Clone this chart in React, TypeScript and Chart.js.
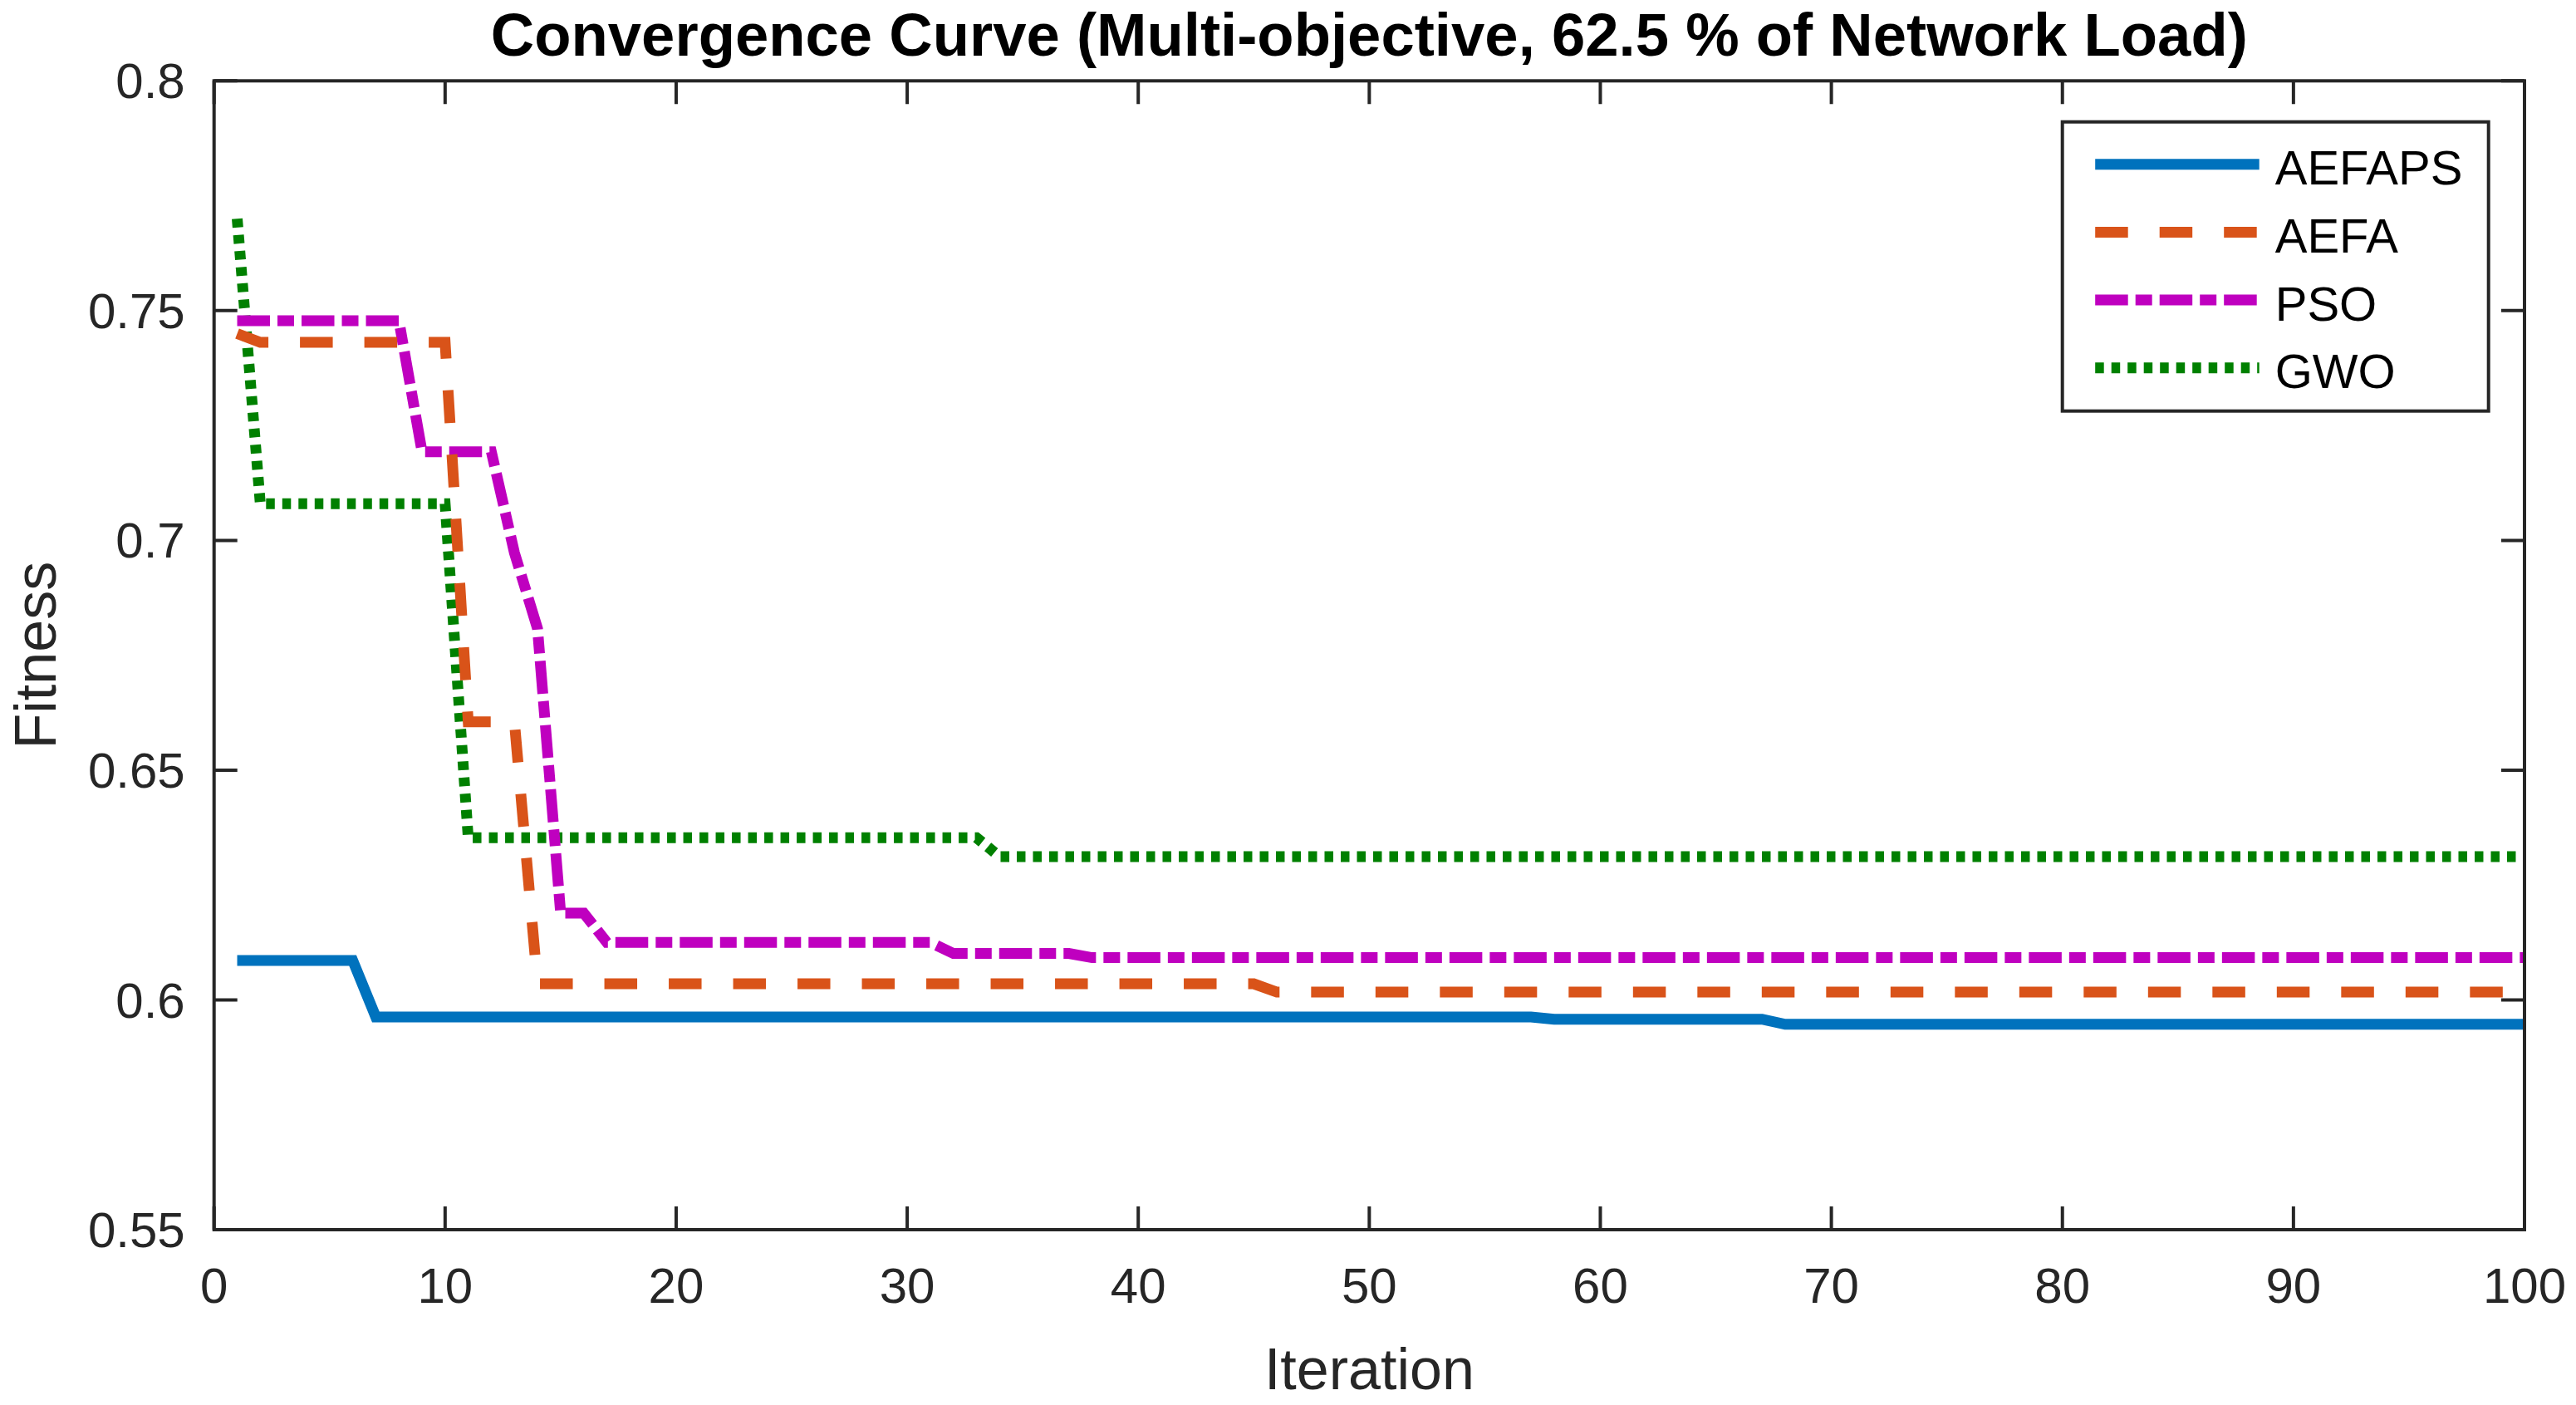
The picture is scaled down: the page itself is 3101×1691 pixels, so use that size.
import React, { useEffect, useRef } from 'react';
import { Chart, registerables } from 'chart.js';

Chart.register(...registerables);

// ---------- data ----------
const chartTitle = 'Convergence Curve (Multi-objective, 62.5 % of Network Load)';
const xAxisTitle = 'Iteration';
const yAxisTitle = 'Fitness';
const seriesNames = ['AEFAPS', 'AEFA', 'PSO', 'GWO'];

// iterations at which the best fitness changes, and the fitness there
const aefapsIter = [1, 6, 7, 57, 58, 67, 68, 100];
const aefapsFit = [0.6086, 0.6086, 0.5963, 0.5963, 0.5958, 0.5958, 0.5947, 0.5947];

const aefaIter = [1, 2, 10, 11, 13, 14, 45, 46, 100];
const aefaFit = [0.745, 0.7431, 0.7431, 0.6605, 0.6605, 0.6035, 0.6035, 0.6017, 0.6017];

const psoIter = [1, 8, 9, 12, 13, 14, 15, 16, 17, 31, 32, 37, 38, 100];
const psoFit = [0.7478, 0.7478, 0.7193, 0.7193, 0.6973, 0.6808, 0.6189, 0.6189, 0.6125, 0.6125, 0.6101, 0.6101, 0.6092, 0.6092];

const gwoIter = [1, 2, 10, 11, 33, 34, 100];
const gwoFit = [0.77, 0.708, 0.708, 0.6353, 0.6353, 0.6312, 0.6312];

const xTickValues = [0, 10, 20, 30, 40, 50, 60, 70, 80, 90, 100];
const xTickLabels = ['0', '10', '20', '30', '40', '50', '60', '70', '80', '90', '100'];
const yTickValues = [0.55, 0.6, 0.65, 0.7, 0.75, 0.8];
const yTickLabels = ['0.55', '0.6', '0.65', '0.7', '0.75', '0.8'];

// ---------- styles ----------
const FONT = '"Liberation Sans", Arial, Helvetica, sans-serif';
const AXIS_COLOR = '#262626';
const LINE_W = 13;

const toPoints = (xs: number[], ys: number[]) => xs.map((x, i) => ({ x, y: ys[i] }));

const matlabPlugin = {
  id: 'matlabFrame',
  afterDatasetsDraw(chart: any) {
    const { ctx, chartArea: ca } = chart;
    const xs = chart.scales.x;
    const ys = chart.scales.y;
    const tl = 28;
    ctx.save();
    ctx.strokeStyle = AXIS_COLOR;
    ctx.lineWidth = 4;
    ctx.setLineDash([]);
    ctx.lineCap = 'butt';
    ctx.beginPath();
    xs.ticks.forEach((t: any) => {
      const px = xs.getPixelForValue(t.value);
      ctx.moveTo(px, ca.bottom);
      ctx.lineTo(px, ca.bottom - tl);
      ctx.moveTo(px, ca.top);
      ctx.lineTo(px, ca.top + tl);
    });
    ys.ticks.forEach((t: any) => {
      const py = ys.getPixelForValue(t.value);
      ctx.moveTo(ca.left, py);
      ctx.lineTo(ca.left + tl, py);
      ctx.moveTo(ca.right, py);
      ctx.lineTo(ca.right - tl, py);
    });
    ctx.stroke();
    ctx.lineJoin = 'miter';
    ctx.strokeRect(ca.left, ca.top, ca.right - ca.left, ca.bottom - ca.top);
    ctx.restore();
  },
  afterDraw(chart: any) {
    const { ctx, chartArea: ca } = chart;
    const cx = (ca.left + ca.right) / 2;
    const cy = (ca.top + ca.bottom) / 2;

    // title
    ctx.save();
    ctx.font = `bold 72.5px ${FONT}`;
    ctx.fillStyle = '#000';
    ctx.textAlign = 'center';
    ctx.textBaseline = 'alphabetic';
    ctx.fillText(chartTitle, cx, ca.top - 30);
    ctx.restore();

    // axis titles
    ctx.save();
    ctx.font = `70px ${FONT}`;
    ctx.fillStyle = AXIS_COLOR;
    ctx.textAlign = 'center';
    ctx.textBaseline = 'alphabetic';
    ctx.fillText(xAxisTitle, cx, ca.bottom + 192);
    ctx.translate(ca.left - 191, cy);
    ctx.rotate(-Math.PI / 2);
    ctx.fillText(yAxisTitle, 0, 0);
    ctx.restore();

    // legend
    const fw = 513;
    const fh = 348;
    const fr = ca.right - 43.3;
    const ft = ca.top + 49.4;
    const fl = fr - fw;
    ctx.save();
    ctx.fillStyle = '#fff';
    ctx.fillRect(fl, ft, fw, fh);
    ctx.strokeStyle = AXIS_COLOR;
    ctx.lineWidth = 4;
    ctx.setLineDash([]);
    ctx.strokeRect(fl, ft, fw, fh);
    chart.data.datasets.forEach((ds: any, i: number) => {
      const y = ft + 51 + i * 81.7;
      ctx.save();
      ctx.strokeStyle = ds.borderColor;
      ctx.lineWidth = ds.borderWidth;
      ctx.lineCap = 'butt';
      ctx.setLineDash(ds.borderDash || []);
      ctx.beginPath();
      ctx.moveTo(fl + 39.5, y);
      ctx.lineTo(fl + 237, y);
      ctx.stroke();
      ctx.restore();
      ctx.font = `58px ${FONT}`;
      ctx.fillStyle = '#000';
      ctx.textAlign = 'left';
      ctx.textBaseline = 'alphabetic';
      ctx.fillText(ds.label, fl + 256, y + 24.5);
    });
    ctx.restore();
  },
};

export default function App() {
  const canvasRef = useRef<HTMLCanvasElement | null>(null);

  useEffect(() => {
    if (!canvasRef.current) return;
    const common = {
      fill: false,
      tension: 0,
      pointRadius: 0,
      pointHoverRadius: 0,
      borderWidth: LINE_W,
      borderCapStyle: 'butt' as const,
      borderJoinStyle: 'miter' as const,
    };
    const chart = new Chart(canvasRef.current, {
      type: 'line',
      data: {
        datasets: [
          { ...common, label: seriesNames[0], data: toPoints(aefapsIter, aefapsFit), borderColor: '#0072BD', borderDash: [] },
          { ...common, label: seriesNames[1], data: toPoints(aefaIter, aefaFit), borderColor: '#D95319', borderDash: [39.5, 38] },
          { ...common, label: seriesNames[2], data: toPoints(psoIter, psoFit), borderColor: '#BF00BF', borderDash: [39.5, 9, 20, 9] },
          { ...common, label: seriesNames[3], data: toPoints(gwoIter, gwoFit), borderColor: '#008000', borderDash: [10.5, 9] },
        ],
      },
      options: {
        animation: false,
        responsive: true,
        maintainAspectRatio: false,
        events: [],
        layout: { padding: { left: 0, right: 62, top: 97.3, bottom: 0 } },
        plugins: {
          legend: { display: false },
          title: { display: false },
          tooltip: { enabled: false },
        },
        scales: {
          x: {
            type: 'linear',
            min: 0,
            max: 100,
            grid: { display: false, drawTicks: false },
            border: { display: false },
            afterBuildTicks: (s: any) => {
              s.ticks = xTickValues.map((v) => ({ value: v }));
            },
            afterFit: (s: any) => {
              s.height = 211;
              s.paddingLeft = 0;
              s.paddingRight = 0;
            },
            ticks: {
              padding: 35,
              color: AXIS_COLOR,
              autoSkip: false,
              maxRotation: 0,
              font: { family: FONT, size: 60 },
              callback: (_v: any, i: number) => xTickLabels[i],
            },
          },
          y: {
            type: 'linear',
            min: 0.55,
            max: 0.8,
            grid: { display: false, drawTicks: false },
            border: { display: false },
            afterBuildTicks: (s: any) => {
              s.ticks = yTickValues.map((v) => ({ value: v }));
            },
            afterFit: (s: any) => {
              s.width = 257.7;
              s.paddingTop = 0;
              s.paddingBottom = 0;
            },
            ticks: {
              padding: 35,
              labelOffset: 4.5,
              color: AXIS_COLOR,
              autoSkip: false,
              font: { family: FONT, size: 60 },
              callback: (_v: any, i: number) => yTickLabels[i],
            },
          },
        },
      },
      plugins: [matlabPlugin],
    } as any);
    return () => chart.destroy();
  }, []);

  return (
    <div style={{ position: 'fixed', left: 0, top: 0, width: 3101, height: 1691, background: '#fff' }}>
      <canvas ref={canvasRef} />
    </div>
  );
}
